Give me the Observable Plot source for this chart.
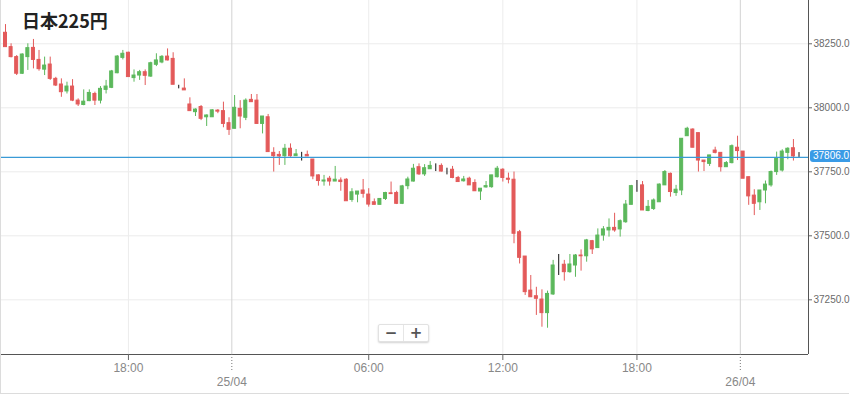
<!DOCTYPE html>
<html><head><meta charset="utf-8">
<script src="https://cdn.jsdelivr.net/npm/d3@7"></script>
<script src="https://cdn.jsdelivr.net/npm/@observablehq/plot@0.6"></script>
<style>
html,body{margin:0;padding:0;background:#fff;}
#wrap{position:relative;width:850px;height:395px;overflow:hidden;}
#border{position:absolute;left:0;top:0;width:849px;height:394px;border-left:1px solid #dcdcdc;border-bottom:1px solid #dcdcdc;box-sizing:border-box;pointer-events:none;}
#title{position:absolute;left:22px;top:9px;font:bold 18px "Noto Sans CJK JP","Noto Sans",sans-serif;color:#222;line-height:22px;}
#price{position:absolute;left:810px;width:46px;height:12px;background:#3a9be6;border-radius:3px;color:#fff;font:10px "Liberation Sans",Arial,sans-serif;line-height:12px;padding-left:3px;box-sizing:border-box;white-space:nowrap;}
#zoom{position:absolute;left:378px;top:324px;width:51px;height:18px;background:#fff;border:1px solid #e2e2e2;border-radius:2px;box-shadow:0 1px 2px rgba(0,0,0,.18);box-sizing:border-box;display:flex;font:bold 15px "DejaVu Sans",sans-serif;color:#555;}
#zoom span{flex:1;text-align:center;line-height:16px;}
#zoom span:first-child{border-right:1px solid #e6e6e6;}
</style></head>
<body><div id="wrap"><div id="chart"></div><div id="title">日本225円</div><div id="price"></div><div id="zoom"><span>−</span><span>+</span></div><div id="border"></div></div>
<script>
const open  = [38293,38237,38198,38133,38198,38234,38187,38149,38169,38113,38091,38064,38083,38028,38011,38026,38054,38028,38070,38078,
38135,38195,38215,38116,38126,38139,38122,38168,38177,38200,38191,38074,38075,38013,37983,38003,37963,37963,37989,37987,
37940,37918,37996,37961,38031,38028,37937,37963,37824,37816,37811,37840,37811,37818,37816,37798,37736,37712,37723,37712,
37716,37719,37640,37661,37677,37661,37631,37621,37644,37666,37667,37625,37694,37712,37768,37740,37760,37771,37773,37755,
37758,37726,37713,37723,37706,37673,37689,37690,37729,37758,37723,37719,37514,37419,37286,37264,37251,37198,37271,37387,
37387,37358,37384,37423,37420,37479,37452,37501,37521,37531,37525,37553,37621,37693,37697,37597,37605,37631,37697,37742,
37667,37677,37889,37915,37901,37794,37781,37833,37824,37768,37784,37844,37829,37729,37657,37631,37677,37697,37749,37755,
37824,37842,37806];
const high  = [38325,38250,38204,38211,38250,38267,38224,38198,38198,38119,38113,38100,38110,38035,38070,38070,38061,38083,38107,38146,
38204,38224,38217,38148,38146,38148,38178,38211,38204,38230,38215,38088,38113,38039,37996,38009,37972,37993,37993,38022,
37961,38048,38028,38035,38052,38052,37966,37974,37844,37829,37857,37859,37837,37826,37831,37798,37738,37736,37732,37771,
37726,37723,37684,37673,37720,37684,37644,37644,37670,37710,37674,37697,37729,37779,37781,37778,37790,37781,37781,37764,
37771,37732,37732,37729,37719,37684,37712,37736,37771,37762,37745,37749,37521,37419,37345,37299,37289,37284,37404,37427,
37404,37427,37427,37445,37486,37482,37527,37536,37566,37588,37562,37638,37697,37716,37712,37638,37644,37703,37755,37745,
37697,37879,37924,37918,37901,37794,37814,37846,37824,37790,37855,37889,37829,37729,37680,37677,37714,37753,37827,37836,
37844,37876,37825];
const low   = [38237,38195,38126,38130,38146,38152,38143,38126,38107,38083,38041,38054,38024,38005,38008,38024,38009,38015,38054,38075,
38133,38187,38120,38100,38107,38087,38119,38161,38172,38183,38090,38074,38068,37987,37966,37950,37927,37963,37977,37922,
37892,37918,37918,37950,38022,37935,37898,37827,37749,37775,37775,37807,37811,37792,37810,37719,37694,37694,37694,37712,
37674,37635,37631,37629,37647,37612,37621,37621,37638,37661,37622,37622,37680,37710,37736,37732,37760,37751,37749,37738,
37723,37710,37710,37697,37674,37638,37686,37686,37726,37710,37703,37469,37390,37267,37260,37189,37143,37139,37267,37345,
37323,37354,37338,37362,37397,37427,37452,37479,37495,37514,37495,37549,37621,37670,37599,37594,37599,37631,37697,37651,
37654,37657,37889,37844,37749,37751,37771,37820,37749,37768,37781,37794,37723,37619,37579,37599,37625,37690,37736,37749,
37797,37792,37806];
const close = [38237,38198,38133,38208,38233,38187,38151,38165,38113,38087,38061,38083,38028,38013,38024,38058,38028,38074,38083,38142,
38200,38211,38120,38126,38139,38125,38174,38185,38199,38185,38090,38074,38068,37987,37993,37957,37970,37990,37985,37937,
37914,38000,37966,38028,38022,37937,37966,37827,37811,37810,37840,37811,37818,37818,37810,37732,37714,37716,37712,37719,
37710,37635,37670,37673,37664,37622,37621,37644,37667,37663,37625,37693,37720,37762,37740,37764,37773,37771,37751,37755,
37726,37710,37720,37697,37674,37684,37694,37736,37762,37726,37719,37508,37414,37280,37260,37254,37198,37273,37384,37387,
37358,37388,37423,37420,37482,37447,37501,37525,37531,37521,37557,37622,37694,37693,37599,37613,37638,37700,37749,37671,
37680,37879,37918,37844,37794,37788,37814,37824,37768,37784,37850,37831,37723,37654,37625,37677,37700,37749,37800,37829,
37840,37810,37806];

const timeTicks  = [22, 65, 89, 113];
const timeLabels = ["18:00", "06:00", "12:00", "18:00"];
const dateTicks  = [40.5, 131.5];
const dateLabels = ["25/04", "26/04"];
const yTicks     = [37250, 37500, 37750, 38000, 38250];
const lastPrice  = 37806;
const title      = "日本225円";

const GREEN = "#5cb85c", RED = "#e35a5a", BLUE = "#3a9ad6";
const candles = open.map((o, i) => ({i, o, h: high[i], l: low[i], c: close[i]}));
const col = d => d.c > d.o ? GREEN : d.c < d.o ? RED : "#111";
const xDomain = [-0.895, 143.7];
const yDomain = [37036.4, 38419.1];
const font = "Liberation Sans, Arial, sans-serif";

const chart = Plot.plot({
  width: 850, height: 395,
  marginTop: 0, marginLeft: 0, marginRight: 42, marginBottom: 41,
  x: {domain: xDomain, axis: null, label: null},
  y: {domain: yDomain, axis: null, label: null},
  style: {fontFamily: font, fontSize: "11px", background: "transparent", overflow: "visible"},
  marks: [
    Plot.ruleY(yTicks, {stroke: "#ececec"}),
    Plot.ruleX(timeTicks, {stroke: "#ececec"}),
    Plot.ruleX(dateTicks, {stroke: "#d2d2d2"}),
    Plot.ruleX(candles, {x: "i", y1: "l", y2: "h", stroke: col}),
    Plot.rect(candles, {x1: d => d.i - 0.27, x2: d => d.i + 0.27, y1: "o", y2: "c", fill: col, stroke: col}),
    Plot.ruleY([lastPrice], {stroke: BLUE, strokeWidth: 1.2}),
    Plot.ruleX([xDomain[1]], {stroke: "#555"}),
    Plot.ruleY([yDomain[0]], {stroke: "#555"}),
    Plot.axisY(yTicks, {anchor: "right", label: null, tickSize: 3, tickPadding: 2, tickFormat: d => d.toFixed(1), stroke: "#666", fill: "#6a6a6a", fontSize: 10}),
    Plot.axisX(timeTicks, {anchor: "bottom", label: null, tickSize: 6, tickPadding: 3, tickFormat: d => timeLabels[timeTicks.indexOf(d)], stroke: "#666", fill: "#888", fontSize: 12}),
    Plot.axisX(dateTicks, {anchor: "bottom", label: null, tickSize: 18, tickPadding: 0, tickFormat: () => "", stroke: "#777", strokeDasharray: "1,2"}),
    Plot.axisX(dateTicks, {anchor: "bottom", label: null, tickSize: 0, tickPadding: 23, tickFormat: d => dateLabels[dateTicks.indexOf(d)], fill: "#888", fontSize: 12})
  ]
});
document.getElementById("chart").appendChild(chart);
document.getElementById("title").textContent = title;
const py = chart.scale("y").apply(lastPrice);
const pr = document.getElementById("price");
pr.textContent = lastPrice.toFixed(1);
pr.style.top = (py - 6.5) + "px";
</script></body></html>
